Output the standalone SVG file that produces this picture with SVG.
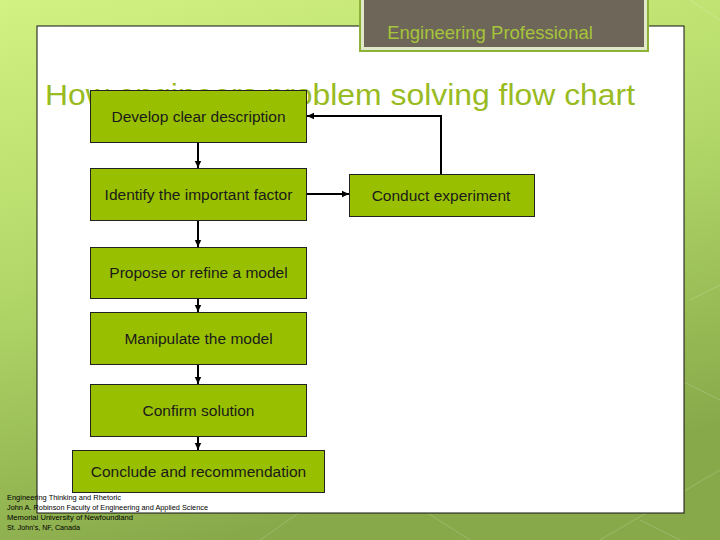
<svg xmlns="http://www.w3.org/2000/svg" width="720" height="540" viewBox="0 0 720 540">
<defs>
<linearGradient id="bg" x1="0" y1="0" x2="0.3" y2="1">
<stop offset="0" stop-color="#d2f283"/>
<stop offset="0.5" stop-color="#b2d768"/>
<stop offset="1" stop-color="#88a94a"/>
</linearGradient>
<marker id="arr" markerWidth="8" markerHeight="8" refX="7" refY="4" orient="auto" markerUnits="userSpaceOnUse">
<path d="M0,0.8 L7,4 L0,7.2 Z" fill="#000"/>
</marker>
<style>
.box{fill:#99c000;stroke:#222;stroke-width:1}
.lbl{font-family:"Liberation Sans",Arial,sans-serif;font-size:15.5px;fill:#1a1a1a;text-anchor:middle}
.con{fill:none;stroke:#000;stroke-width:2;marker-end:url(#arr)}
.foot{font-family:"Liberation Sans Narrow","Liberation Sans",sans-serif;font-size:8px;fill:#000}
.deco{stroke:#ffffff;stroke-opacity:0.18;stroke-width:1;fill:none}
</style>
</defs>
<rect x="0" y="0" width="720" height="540" fill="url(#bg)"/>
<g class="deco">
<path d="M600,540 L720,470"/>
<path d="M640,520 L720,560"/>
<path d="M680,380 L720,400"/>
<path d="M690,300 L720,285"/>
<path d="M260,540 L360,470 L470,540"/>
<path d="M690,0 L720,20"/>
</g>
<rect x="37" y="26" width="647" height="487" fill="#ffffff" stroke="#111" stroke-width="1"/>
<g id="header">
<rect x="359" y="-2" width="290" height="54" fill="#8fb13a"/>
<rect x="361" y="-2" width="286" height="52" fill="#dfe9c8"/>
<rect x="364" y="-2" width="280" height="49" fill="#6e6658"/>
<text x="490" y="39" font-family="Liberation Sans,Arial,sans-serif" font-size="18.5" fill="#a6c53a" text-anchor="middle">Engineering Professional</text>
</g>
<text id="title" x="45" y="105" font-family="Liberation Sans,Arial,sans-serif" font-size="30" fill="#99bb22" textLength="590" lengthAdjust="spacingAndGlyphs">How engineers problem solving flow chart</text>
<g id="connectors">
<path class="con" d="M198,142 V168"/>
<path class="con" d="M198,220 V247"/>
<path class="con" d="M198,298 V312"/>
<path class="con" d="M198,364 V384"/>
<path class="con" d="M198,436 V450"/>
<path class="con" d="M306,194 H349"/>
<path class="con" d="M441,174 V116 H307"/>
</g>
<g id="n1"><rect class="box" x="90.5" y="90.5" width="216" height="52"/><text class="lbl" x="198.5" y="122">Develop clear description</text></g>
<g id="n2"><rect class="box" x="90.5" y="168.5" width="216" height="52"/><text class="lbl" x="198.5" y="200">Identify the important factor</text></g>
<g id="n3"><rect class="box" x="90.5" y="247.5" width="216" height="51"/><text class="lbl" x="198.5" y="278">Propose or refine a model</text></g>
<g id="n4"><rect class="box" x="90.5" y="312.5" width="216" height="52"/><text class="lbl" x="198.5" y="344">Manipulate the model</text></g>
<g id="n5"><rect class="box" x="90.5" y="384.5" width="216" height="52"/><text class="lbl" x="198.5" y="416">Confirm solution</text></g>
<g id="n6"><rect class="box" x="72.5" y="450.5" width="252" height="42"/><text class="lbl" x="198.5" y="477">Conclude and recommendation</text></g>
<g id="n7"><rect class="box" x="349.5" y="174.5" width="185" height="42"/><text class="lbl" x="441" y="201">Conduct experiment</text></g>
<g id="footer">
<text class="foot" x="7" y="500" textLength="114" lengthAdjust="spacingAndGlyphs">Engineering Thinking and Rhetoric</text>
<text class="foot" x="7" y="510" textLength="201" lengthAdjust="spacingAndGlyphs">John A. Robinson Faculty of Engineering and Applied Science</text>
<text class="foot" x="7" y="520" textLength="126" lengthAdjust="spacingAndGlyphs">Memorial University of Newfoundland</text>
<text class="foot" x="7" y="530" textLength="73" lengthAdjust="spacingAndGlyphs">St. John's, NF, Canada</text>
</g>
</svg>
